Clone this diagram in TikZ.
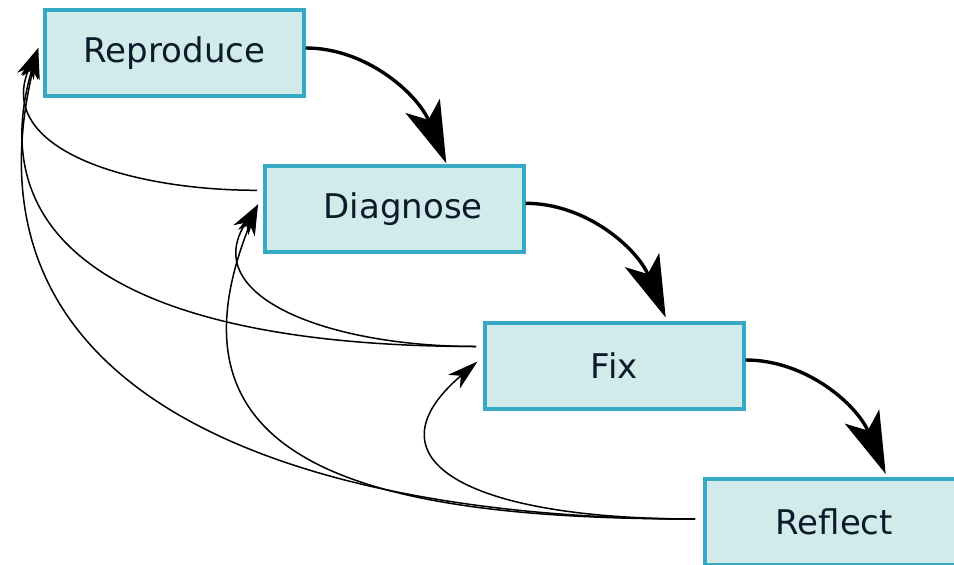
\documentclass[tikz,border=0pt]{standalone}
\usepackage{fontspec}
\setmainfont{DejaVu Sans}
\usetikzlibrary{arrows.meta}
\definecolor{boxfill}{HTML}{D1EAEA}
\definecolor{boxline}{HTML}{36A9C4}
\definecolor{labelink}{HTML}{0B1B2B}

\begin{document}
\begin{tikzpicture}[x=1pt, y=-1pt,
  stage/.style={rectangle, draw=boxline, fill=boxfill, line width=4pt,
    minimum width=258.5pt, minimum height=86pt, inner sep=0pt,
    text=labelink, font=\fontsize{34pt}{40pt}\selectfont},
  forward/.style={line width=3.4pt, -{Stealth[length=62pt, width=37pt, inset=15pt]}},
  back/.style={line width=1.5pt, -{Stealth[length=31pt, width=18pt, inset=9pt]}}]
\useasboundingbox (0,0) rectangle (954,565);
\clip (0,0) rectangle (954,565);

% the four stages of the debugging loop
\node[stage] (rep) at (174.5,53)  {Reproduce};
\node[stage] (dia) at (394.3,209.3) {\hspace*{18pt}Diagnose};
\node[stage] (fix) at (614.3,365.5) {Fix};
\node[stage] (ref) at (834.3,521.5) {Reflect};

% forward flow
\draw[forward] ([yshift=5pt]rep.east) .. controls +(62,0) and +(-28,-68) .. ([xshift=52pt,yshift=1pt]dia.north);
\draw[forward] ([yshift=6pt]dia.east) .. controls +(62,0) and +(-28,-68) .. ([xshift=51.4pt,yshift=3pt]fix.north);
\draw[forward] ([yshift=5.5pt]fix.east) .. controls +(62,0) and +(-28,-68) .. ([xshift=51.4pt,yshift=2.5pt]ref.north);

% going back to an earlier stage
\draw[back] ([xshift=-6pt,yshift=19pt]dia.west) .. controls +(-130,0) and +(-45,100) .. ([xshift=-5pt,yshift=5pt]rep.west);
\draw[back] ([xshift=-7pt,yshift=19pt]fix.west) .. controls +(-280,0) and +(-68,230) .. ([xshift=-5pt,yshift=5pt]rep.west);
\draw[back] ([xshift=-8pt,yshift=2.5pt]ref.west) .. controls +(-340,0) and +(-92,380) .. ([xshift=-5pt,yshift=5pt]rep.west);
\draw[back] ([xshift=-7pt,yshift=19pt]fix.west) .. controls +(-150,0) and +(-60.5,91.3) .. ([xshift=-5pt,yshift=5pt]dia.west);
\draw[back] ([xshift=-8pt,yshift=2.5pt]ref.west) .. controls +(-330,0) and +(-105,260) .. ([xshift=-5pt,yshift=5pt]dia.west);
\draw[back] ([xshift=-8pt,yshift=2.5pt]ref.west) .. controls +(-230,0) and +(-114,97.5) .. ([xshift=-5.5pt,yshift=4pt]fix.west);
\end{tikzpicture}
\end{document}
